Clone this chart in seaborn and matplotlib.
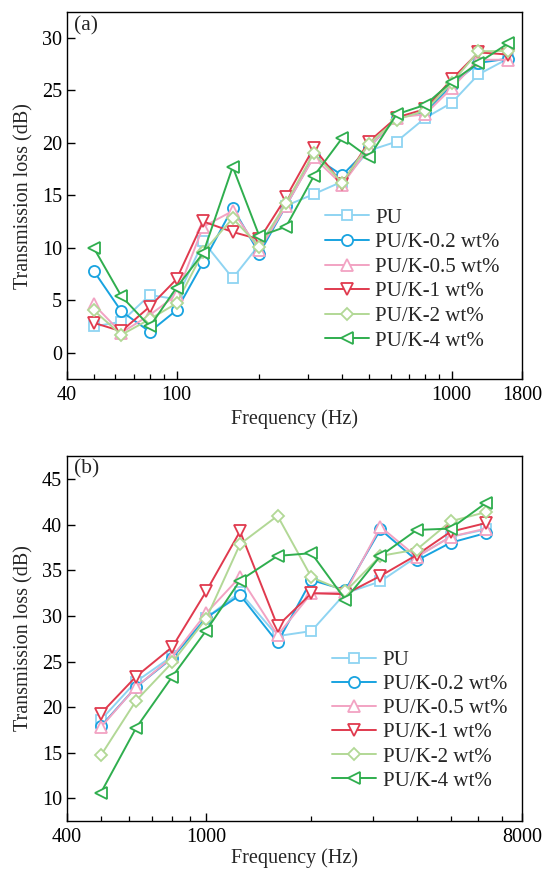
import numpy as np
import pandas as pd
import matplotlib
matplotlib.use("Agg")
import matplotlib.pyplot as plt
import seaborn as sns
from matplotlib.ticker import FixedLocator, FixedFormatter, LogLocator, NullFormatter

sns.set_theme(style="ticks")
plt.rcParams['font.family'] = ['Liberation Serif', 'DejaVu Serif']
plt.rcParams['mathtext.fontset'] = 'stix'

labels = ["PU", "PU/K-0.2 wt%", "PU/K-0.5 wt%", "PU/K-1 wt%", "PU/K-2 wt%", "PU/K-4 wt%"]
colors = ["#8fd4f2", "#18a3e0", "#f2a3c3", "#e03a4e", "#b2d896", "#2fae4e"]
markers = ["s", "o", "^", "v", "D", "<"]
msizes = [7.5, 8, 8.5, 8.5, 6.5, 8.5]

# Panel (a)
freq_a = [50, 63, 80, 100, 125, 160, 200, 250, 315, 400, 500, 630, 800, 1000, 1250, 1600]
pu_a    = [2.5, 2.95, 5.5, 5.1, 10.6, 7.1, 10.3, 14.0, 15.1, 16.3, 19.25, 20.1, 22.35, 23.8, 26.5, 28.0]
k02_a   = [7.8, 3.95, 2.0, 4.05, 8.6, 13.8, 9.45, 14.0, 18.7, 16.9, 19.5, 22.4, 22.9, 25.5, 27.6, 28.0]
k05_a   = [4.6, 1.9, 3.6, 5.5, 12.0, 13.5, 9.8, 14.0, 18.6, 16.0, 19.5, 22.4, 22.7, 25.2, 27.9, 27.9]
k1_a    = [2.85, 2.05, 4.4, 7.0, 12.5, 11.5, 10.8, 14.8, 19.5, 16.1, 20.1, 22.4, 23.2, 26.05, 28.6, 28.4]
k2_a    = [4.05, 1.7, 3.2, 4.7, 9.6, 12.8, 10.1, 14.25, 19.0, 16.2, 19.9, 22.2, 23.05, 25.7, 28.7, 28.75]
k4_a    = [10.0, 5.4, 2.5, 6.2, 9.5, 17.7, 11.1, 12.0, 16.8, 20.45, 18.6, 22.7, 23.6, 25.8, 27.6, 29.45]

# Panel (b)
freq_b = [500, 630, 800, 1000, 1250, 1600, 2000, 2500, 3150, 4000, 5000, 6300]
pu_b    = [18.6, 22.8, 25.6, 29.8, 32.6, 27.8, 28.35, 32.5, 33.8, 36.5, 38.7, 39.5]
k02_b   = [17.9, 22.2, 25.4, 29.8, 32.3, 27.1, 33.95, 32.85, 39.5, 36.1, 38.05, 39.1]
k05_b   = [17.8, 22.2, 25.5, 30.3, 34.3, 27.9, 32.5, 32.6, 39.8, 36.5, 38.7, 39.6]
k1_b    = [19.3, 23.35, 26.6, 32.7, 39.3, 28.9, 32.5, 32.4, 34.4, 36.7, 39.25, 40.2]
k2_b    = [14.7, 20.7, 24.9, 29.7, 37.9, 41.0, 34.25, 32.7, 36.6, 37.3, 40.4, 41.4]
k4_b    = [10.6, 17.7, 23.35, 28.4, 33.9, 36.6, 36.9, 31.8, 36.6, 39.45, 39.6, 42.4]

series_a = [pu_a, k02_a, k05_a, k1_a, k2_a, k4_a]
series_b = [pu_b, k02_b, k05_b, k1_b, k2_b, k4_b]

fig = plt.figure(figsize=(5.46, 8.72), dpi=100)
W, H = 546, 872
ax1 = fig.add_axes([67 / W, 1 - 379 / H, 455 / W, 366.5 / H])
ax2 = fig.add_axes([67 / W, 1 - 821 / H, 455 / W, 365.3 / H])


def draw(ax, freq, series):
    for lab, vals, c, m, ms in zip(labels, series, colors, markers, msizes):
        df = pd.DataFrame({"f": freq, "v": vals})
        sns.lineplot(data=df, x="f", y="v", ax=ax, color=c, marker=m,
                     markersize=ms, markerfacecolor="white", markeredgecolor=c,
                     markeredgewidth=1.3, linewidth=1.4, label=lab)


draw(ax1, freq_a, series_a)
draw(ax2, freq_b, series_b)

fs = 14.5
lfs = 15
for ax in (ax1, ax2):
    ax.set_xscale("log")
    for s in ax.spines.values():
        s.set_visible(True)
        s.set_color("black")
        s.set_linewidth(1.0)
    ax.tick_params(axis="both", which="both", direction="in", top=False, right=False,
                   labelsize=fs, colors="black")
    ax.tick_params(axis="both", which="major", length=6, width=1)
    ax.tick_params(axis="x", which="major", pad=5)
    ax.tick_params(axis="x", which="minor", length=3.5, width=0.9)
    ax.set_ylabel("Transmission loss (dB)", fontsize=fs, labelpad=6)
    ax.grid(False)

ax1.set_xlabel("Frequency (Hz)", fontsize=fs, labelpad=3)
ax2.set_xlabel("Frequency (Hz)", fontsize=fs, labelpad=1)

# Axes (a)
ax1.set_xlim(40, 1800)
ax1.set_ylim(-2.5, 32.4)
ax1.xaxis.set_major_locator(FixedLocator([40, 100, 1000, 1800]))
ax1.xaxis.set_major_formatter(FixedFormatter(["40", "100", "1000", "1800"]))
ax1.xaxis.set_minor_locator(LogLocator(base=10, subs=np.arange(2, 10)))
ax1.xaxis.set_minor_formatter(NullFormatter())
ax1.set_yticks([0, 5, 10, 15, 20, 25, 30])
ax1.text(0.015, 0.99, "(a)", transform=ax1.transAxes, fontsize=15.5, va="top", ha="left")

# Axes (b)
ax2.set_xlim(400, 8000)
ax2.set_ylim(7.5, 47.6)
ax2.xaxis.set_major_locator(FixedLocator([400, 1000, 8000]))
ax2.xaxis.set_major_formatter(FixedFormatter(["400", "1000", "8000"]))
ax2.xaxis.set_minor_locator(LogLocator(base=10, subs=np.arange(2, 10)))
ax2.xaxis.set_minor_formatter(NullFormatter())
ax2.set_yticks([10, 15, 20, 25, 30, 35, 40, 45])
ax2.text(0.015, 0.99, "(b)", transform=ax2.transAxes, fontsize=15.5, va="top", ha="left")

ax1.legend(loc="center left", bbox_to_anchor=(0.567, 0.272), frameon=False, fontsize=lfs,
           borderpad=0, borderaxespad=0, handlelength=2.1, handletextpad=0.3, labelspacing=0.24)
ax2.legend(loc="center left", bbox_to_anchor=(0.582, 0.275), frameon=False, fontsize=lfs,
           borderpad=0, borderaxespad=0, handlelength=2.1, handletextpad=0.35, labelspacing=0.22)

fig.savefig("out.png", dpi=100)
